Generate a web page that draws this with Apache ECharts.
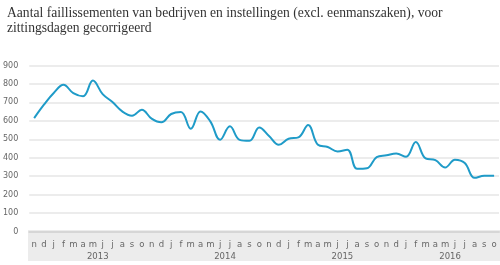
<!DOCTYPE html>
<html>
<head>
<meta charset="utf-8">
<script src="https://cdn.jsdelivr.net/npm/echarts@6/dist/echarts.min.js"></script>
<style>
  html, body { margin: 0; padding: 0; background: #ffffff; }
  #chart { width: 500px; height: 265px; }
</style>
</head>
<body>
<div id="chart"></div>
<script>
const titleText = 'Aantal faillissementen van bedrijven en instellingen (excl. eenmanszaken), voor\nzittingsdagen gecorrigeerd';

const monthLabels = [
  'n','d',
  'j','f','m','a','m','j','j','a','s','o','n','d',
  'j','f','m','a','m','j','j','a','s','o','n','d',
  'j','f','m','a','m','j','j','a','s','o','n','d',
  'j','f','m','a','m','j','j','a','s','o'
];

const yearLabels = ['2013', '2014', '2015', '2016'];
const yearLabelIndex = [6, 19, 31, 42];

const values = [
  615, 688, 751, 795, 750, 733, 818, 745, 702, 651, 628, 660,
  612, 592, 637, 648, 557, 651, 597, 497, 570, 497, 492, 564,
  518, 470, 503, 510, 577, 470, 458, 434, 443, 340, 343, 403,
  413, 423, 405, 485, 396, 387, 347, 389, 371, 291, 302, 302
];

const yTicks = { min: 0, max: 900, interval: 100 };

const yearAxisData = monthLabels.map(function (m, i) {
  const k = yearLabelIndex.indexOf(i);
  return k >= 0 ? yearLabels[k] : '';
});

const chart = echarts.init(document.getElementById('chart'), null, { renderer: 'canvas' });

chart.setOption({
  animation: false,
  backgroundColor: '#ffffff',
  title: {
    text: titleText,
    left: 2,
    top: 1,
    textStyle: {
      fontFamily: 'Liberation Serif',
      fontSize: 13.6,
      fontWeight: 'normal',
      color: '#333333',
      lineHeight: 15
    }
  },
  graphic: [{
    type: 'rect',
    left: 28,
    top: 230,
    z: -10,
    shape: { width: 472, height: 31 },
    style: { fill: '#ececec' }
  }],
  grid: { left: 28, right: 1, top: 65.5, bottom: 33.5 },
  xAxis: [{
    type: 'category',
    data: monthLabels,
    boundaryGap: true,
    axisLine: { show: true, lineStyle: { color: '#d6d6d6', width: 2 } },
    axisTick: { show: false },
    axisLabel: {
      interval: 0,
      margin: 8.5,
      fontFamily: 'Verdana, DejaVu Sans',
      fontSize: 8.5,
      color: '#666666'
    },
    splitLine: { show: false }
  }, {
    type: 'category',
    position: 'bottom',
    data: yearAxisData,
    boundaryGap: true,
    axisLine: { show: false },
    axisTick: { show: false },
    axisLabel: {
      interval: 0,
      margin: 20.5,
      padding: [0, 0, 0, 9.8],
      fontFamily: 'DejaVu Sans',
      fontSize: 8.5,
      color: '#666666'
    },
    splitLine: { show: false }
  }],
  yAxis: {
    type: 'value',
    min: yTicks.min,
    max: yTicks.max,
    interval: yTicks.interval,
    axisLine: { show: false },
    axisTick: { show: false },
    axisLabel: {
      margin: 11,
      fontFamily: 'DejaVu Sans',
      fontSize: 8,
      color: '#666666'
    },
    splitLine: { show: true, lineStyle: { color: '#e6e6e6', width: 1.5 } }
  },
  series: [{
    type: 'line',
    data: values,
    xAxisIndex: 0,
    smooth: 0.4,
    showSymbol: false,
    lineStyle: { color: '#1f9bc8', width: 2 },
    itemStyle: { color: '#1f9bc8' }
  }]
});
</script>
</body>
</html>
